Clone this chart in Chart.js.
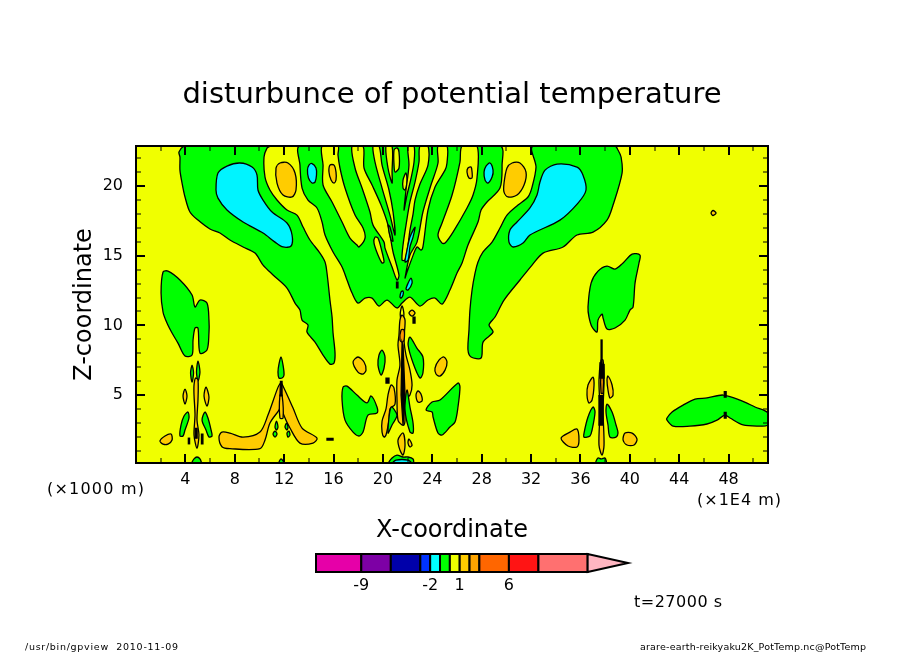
<!DOCTYPE html>
<html><head><meta charset="utf-8">
<style>html,body{margin:0;padding:0;background:#fff}canvas{position:absolute;left:0}</style>
<script src="https://cdn.jsdelivr.net/npm/chart.js@4"></script></head>
<body><canvas id="main" width="904" height="654" style="top:0"></canvas><canvas id="bar" width="904" height="100" style="top:540px"></canvas>
<script>
const titleText = 'disturbunce of potential temperature';
const xTitle = 'X-coordinate', zTitle = 'Z-coordinate';
const xMajor = [4,8,12,16,20,24,28,32,36,40,44,48];
const xMinor = [2,6,10,14,18,22,26,30,34,38,42,46,50];
const zMajor = [5,10,15,20];
const zMinor = [1,2,3,4,6,7,8,9,11,12,13,14,16,17,18,19,21,22];
const barLevels = [-13.6,-9,-6,-3,-2,-1,0,1,2,3,6,9,14];
const barTip = 18.1;
const barLabels = [-9,-2,1,6];
const barColors = ['#e600a8','#7d00a5','#0000aa','#0033ff','#00ffff','#00ff00','#eeff00','#ffcc00','#ffa500','#ff6600','#ff1414','#ff7070','#ffb6c1'];

// contour outlines, flat x,z pairs in axis units
const greenLeftTop=[3.97,22.88,3.48,22.45,3.56,22.09,3.56,21.15,3.73,20.22,3.97,19.22,4.37,18.14,5.02,17.56,5.99,16.92,6.8,16.63,7.61,16.13,8.67,15.63,9.64,15.19,10.29,14.33,11.1,13.62,12.23,12.68,12.88,11.6,13.28,11.1,13.45,10.38,13.93,10.03,13.85,9.52,14.5,8.8,15.15,7.87,15.71,7.22,16.04,7.3,16.12,8.01,15.96,9.45,15.88,10.6,15.71,11.82,15.47,13.76,15.31,14.55,14.9,15.19,14.09,16.13,13.53,17.06,13.04,17.92,12.23,18.28,11.42,19,10.85,19.72,10.45,20.65,10.37,22.09,10.61,22.73,10.85,22.88];
const greenCentre=[13.28,22.88,13.28,21.51,13.45,19.86,13.93,19,14.66,18.43,15.07,17.42,15.31,16.49,15.96,15.27,16.69,14.19,17.09,13.26,17.5,12.32,17.98,11.6,18.55,11.96,19.12,11.96,19.68,11.39,20.33,11.82,21.14,11.25,21.55,11.6,22.19,12.03,23,11.39,23.65,11.82,24.22,11.96,24.79,11.53,25.43,12.54,26,13.76,26.41,14.48,26.89,15.77,27.7,17.42,27.95,18.28,28.43,18.86,29.48,19.86,29.65,21.51,29.48,22.88];
const greenRightTop=[32.16,22.88,32.4,21.37,32.08,19.93,31.75,19.22,30.94,18.64,30.05,17.92,29.48,16.99,28.84,15.98,28.11,15.27,27.7,14.55,27.46,13.76,27.22,12.54,27.05,11.1,26.97,9.67,26.89,8.23,27.14,7.73,27.95,7.66,28.11,8.8,28.92,9.52,28.59,10.03,29.08,10.6,29.81,11.82,31.1,13.26,32.08,14.33,32.97,15.19,34.59,15.63,35.72,16.49,37.02,16.7,38.15,17.56,38.64,18.64,39.37,20.94,39.29,22.09,39.04,22.59,38.8,22.88];
const greenLobeLeft=[2.19,13.83,2.59,13.9,3.56,13.26,4.54,12.18,4.78,11.32,5.18,11.82,5.75,11.6,5.91,10.38,5.91,9.45,5.75,8.23,5.18,8.01,5.02,9.81,4.78,9.81,4.62,8.95,4.54,7.87,3.97,7.8,3.4,8.73,2.92,9.45,2.51,10.17,2.19,10.96,2.03,12.32];
const greenLobeRight=[36.61,11.32,36.86,13.04,37.42,13.9,38.15,14.26,38.8,14.04,39.45,14.48,40.18,15.12,40.82,15.05,40.74,14.48,40.42,13.04,40.26,11.32,40.01,11.1,39.61,10.38,38.8,9.81,38.15,9.74,37.83,10.53,37.75,10.81,37.42,10.38,37.34,9.52,36.94,9.88,36.69,10.6];
const greenFarRight=[43.01,3.35,43.42,3.78,44.31,4.28,45.28,4.71,46.25,4.79,47.55,5,48.92,4.64,50.14,4.14,51.19,3.71,51.19,2.85,50.38,2.77,49.17,2.85,48.11,3.35,47.71,3.56,47.06,3.2,46.25,2.92,44.87,2.77,43.5,2.77,43.01,3.2];
const greenMidLeft=[16.77,5.57,17.09,5.64,17.9,5,18.71,4.43,19.04,4.93,19.52,4.14,19.52,3.71,18.79,3.56,18.39,2.34,18.06,2.06,17.58,2.34,16.93,3.2,16.69,4.64];
const greenMidRight=[23.49,3.92,23.98,4.5,24.62,4.64,26.08,5.86,26.24,5.57,26.08,4.14,25.84,3.06,25.43,2.7,24.79,2.13,24.46,2.27,24.06,3.42,23.98,3.78];
const greenSlimRight=[22.19,9.16,22.75,8.37,23.24,7.73,23.24,6.58,23,6.22,22.44,7.3,22.04,8.59];
const greenSlimLeft=[19.93,8.23,20.17,7.73,20.09,6.94,19.85,6.43,19.6,7.15,19.68,7.87];
const greenA1=[4.21,3.78,4.29,3.35,3.97,2.49,3.81,2.06,3.56,2.06,3.65,2.85,3.89,3.49];
const greenA2=[5.59,3.78,5.83,3.35,6.08,2.49,6.16,2.06,5.91,1.99,5.67,2.49,5.35,3.2];
const greenA3=[4.54,0.12,4.7,0.41,4.94,0.55,5.18,0.41,5.27,0.12];
const greenB1=[11.75,7.73,11.91,7.15,11.99,6.44,11.83,6.22,11.58,6.22,11.5,6.65,11.58,7.22];
const greenB2=[11.38,3.13,11.5,2.7,11.38,2.49,11.26,2.7];
const greenB3=[11.26,2.41,11.42,2.2,11.26,1.98,11.1,2.2];
const greenB4=[12.19,2.99,12.31,2.7,12.23,2.49,12.07,2.7];
const greenB5=[12.39,2.41,12.47,2.13,12.31,1.98,12.23,2.27];
const greenB6=[11.58,0.12,11.75,0.41,11.99,0.12];
const greenC1=[20.66,4.14,21.14,3.56,20.74,2.85,20.41,2.27];
const greenC2=[21.95,5.36,22.19,4.14,22.44,2.99,22.44,2.27,22.19,2.34,21.79,3.92];
const greenC3=[20.49,0.12,20.74,0.48,21.14,0.69,21.63,0.55,22.03,0.55,22.44,0.41,22.44,0.12];
const greenD1=[37.02,4.14,37.18,3.78,36.94,2.49,36.77,2.06,36.29,1.98,36.29,2.27,36.61,3.42];
const greenD2=[38.15,4.35,38.56,3.78,38.88,2.85,39.04,2.27,38.88,1.98,38.39,1.98,38.23,2.85,38.07,3.78];
const greenD3=[37.26,0.12,37.42,0.48,37.67,0.41,37.99,0.48,38.07,0.12];
const greenStubL=[4.54,7.15,4.66,6.58,4.54,5.93,4.42,6.58];
const greenStubR=[5.02,7.44,5.18,6.65,5.02,6,4.9,6.65];
const greenThinL=[20.41,17.2,20.57,17.06,20.82,16.05,20.66,16.13];

const yellowTongueL=[15.07,22.88,15.15,21.51,15.15,20.08,15.88,18.86,16.69,17.42,17.33,16.27,17.9,15.77,18.06,15.63,18.55,16.27,18.39,16.99,17.74,17.92,16.93,19.86,16.52,21.3,16.36,22.23,16.36,22.88];
const yellowBand3=[17.5,22.88,17.74,21.3,18.31,19.86,18.95,18.14,19.2,17.2,20.09,15.98,20.17,15.55,20.74,14.19,21.14,13.26,21.3,13.6,20.82,15.27,20.41,17.2,19.85,18.64,19.12,20.08,18.47,21.3,18.39,22.88];
const yellowBand4=[19.2,22.88,19.36,21.73,19.93,19.86,20.57,17.92,20.98,16.49,20.82,18.14,20.49,19.72,19.93,21.51,19.68,22.88];
const yellowBand5=[20.25,22.88,20.41,21.3,20.74,20.22,20.74,21.01,20.74,22.88];
const yellowOval6=[20.9,22.59,21.14,22.74,21.3,22.45,21.3,21.3,20.98,21.01,20.9,21.51];
const yellowBlob7=[21.63,20.44,21.87,20.94,21.95,20.29,21.79,19.72,21.63,19.86];
const yellowOval8=[19.36,16.34,19.6,16.27,19.93,15.27,20.09,14.55,19.93,14.48,19.6,15.05,19.28,15.91];
const yellowR1=[22.03,22.88,22.11,21.51,21.87,19.72,21.71,18.28,21.95,19.36,22.28,20.58,22.52,21.73,22.52,22.88];
const yellowR2=[23,22.88,22.92,21.73,22.6,20.29,22.19,18.86,21.87,17.2,21.63,15.77,21.55,14.69,21.79,14.69,22.03,15.77,22.19,16.85,22.44,17.99,22.6,19,23,20.15,23.65,21.51,23.65,22.88];
const yellowR3=[24.46,22.88,24.46,21.66,23.89,20.08,23.24,18.14,22.76,15.98,22.19,15.05,21.79,13.4,21.95,13.83,22.36,14.83,22.76,15.63,23.08,15.41,23.24,15.63,23.65,18.28,24.22,19.93,25.03,21.15,25.19,21.66,25.19,22.88];
const yellowTongueR=[26.41,22.88,26.24,21.73,25.6,19.36,24.79,17.35,24.46,16.49,24.79,15.91,25.03,15.91,25.68,16.7,26.81,18.43,27.3,19.36,27.62,20.58,27.62,22.88];
const yellowSpikeR=[21.55,11.4,21.7,10.8,21.55,10.2,21.4,10.8];

const cyanLeftBig=[6.48,19.72,6.64,20.94,7.37,21.44,8.42,21.66,9.4,21.37,9.8,20.8,9.88,19.72,10.29,19,11.02,18.14,12.23,17.35,12.64,16.49,12.56,15.7,11.91,15.63,11.26,15.98,10.29,16.63,8.67,17.42,7.37,18.28,6.64,19.14];
const cyanLeftSmall=[14.26,21.62,14.58,21.3,14.62,20.8,14.5,20.29,14.26,20.22,13.97,20.58,13.89,21.15,14.01,21.51];
const cyanRightSmall=[28.35,21.44,28.67,21.66,28.92,21.15,28.84,20.65,28.51,20.22,28.27,20.44,28.19,21.01];
const cyanRightBig=[30.29,16.85,30.86,17.42,31.91,18.43,32.48,19.36,32.72,20.29,33.13,21.15,34.1,21.58,35.72,21.37,36.2,20.8,36.45,19.72,35.8,18.78,34.34,17.56,31.91,16.49,31.35,15.91,30.54,15.63,30.21,15.98];
const cyanThin=[22.6,17.06,22.19,16.34,21.95,15.41,21.79,14.55,22.04,14.69,22.19,15.63,22.44,16.34];
const cyanDotA=[22.28,13.4,22.36,13.04,22.04,12.54,21.87,12.61,22.04,13.04];
const cyanDotB=[21.63,12.47,21.63,12.18,21.47,11.96,21.38,12.04,21.47,12.4];
const cyanFloor=[20.82,0.12,21.06,0.33,22.03,0.33,22.28,0.12];

const goldBlobL=[11.34,21.3,11.66,21.66,12.31,21.66,12.88,20.94,12.96,19.72,12.64,19.22,11.91,19.36,11.42,20.22];
const goldOvalL=[15.71,21.51,16.04,21.51,16.2,21.01,16.2,20.44,16.04,20.22,15.8,20.44,15.63,21.01];
const goldOvalR=[26.89,21.3,27.14,21.37,27.22,21.01,27.22,20.58,26.97,20.58,26.81,21.01];
const goldBlobR=[29.81,20.22,30.05,21.3,30.46,21.66,31.1,21.66,31.59,21.01,31.43,20.08,30.86,19.36,30.13,19.22,29.81,19.57];
const goldDot=[46.58,18.07,46.74,18.25,46.98,18.07,46.74,17.89];
const goldSpine1=[4.82,6.22,5.02,6.08,5.02,4.64,4.94,3.2,5.1,2.13,4.94,1.18,4.7,2.13,4.78,3.56,4.7,4.98,4.7,5.72];
const goldE1=[3.97,5.43,4.13,4.93,3.97,4.35,3.81,4.93];
const goldE2=[5.67,5.57,5.91,4.86,5.75,4.21,5.51,4.93];
const goldE3=[1.94,1.7,2.35,2.06,2.84,2.2,2.92,1.77,2.59,1.48,2.19,1.48];
const goldPeak=[6.72,1.98,6.96,2.34,7.61,2.27,8.67,1.98,10.04,2.34,10.69,3.56,11.5,5.55,11.75,5.86,11.98,5.5,12.72,4.07,13.45,2.63,14.66,1.91,14.34,1.55,13.28,1.55,12.47,2.63,11.9,3.71,11.75,4.28,11.58,3.92,10.85,2.99,10.45,1.77,10.04,1.15,7.61,1.15,6.96,1.29];
const goldPeakCore=[11.66,5,11.83,5,11.91,3.35,11.66,3.35];
const goldColumn=[21.55,10.74,21.79,10.38,21.71,8.95,21.87,7.87,22.19,6.79,22.36,5.72,22.19,5,21.79,4.64,21.79,3.2,21.71,2.85,21.55,2.85,21.22,3.2,21.14,4.64,21.14,6.08,21.38,7.15,21.22,8.59,21.3,9.31,21.38,10.38];
const goldSideL=[20.66,5.72,20.9,5.5,20.98,4.35,20.57,4,20.49,3.2,20.25,2.13,20.09,1.98,19.93,2.34,19.93,3.13,20.25,4,20.41,5];
const goldOvalA=[17.98,7.73,18.47,7.37,18.63,6.79,18.39,6.51,17.98,6.65,17.58,7.37];
const goldOvalB=[24.95,7.73,25.19,7.37,25.03,6.79,24.62,6.36,24.3,6.51,24.22,6.94,24.54,7.51];
const goldOvalC=[22.84,5.29,23.08,5.07,23.17,4.57,22.84,4.5,22.68,5];
const goldOvalD=[22.11,1.84,22.36,1.41,22.19,1.27,22.03,1.56];
const goldLowerC=[21.63,2.27,21.79,1.41,21.63,0.69,21.38,1.05,21.22,1.77];
const goldDotC=[22.36,11.1,22.6,10.89,22.36,10.66,22.11,10.89];
const goldSpine2=[37.67,7.51,37.83,7.51,37.91,6.08,37.83,3.92,37.91,1.41,37.75,0.69,37.5,1.41,37.58,3.92,37.5,6.08];
const goldF1=[37.02,6.29,37.1,5.72,36.94,4.64,36.69,4.43,36.53,5,36.61,5.72];
const goldF2=[38.23,6.36,38.56,5.72,38.64,5,38.39,4.79,38.23,5.36,38.15,6.08];
const goldF3=[34.43,1.91,35.15,2.34,35.72,2.56,35.88,1.77,35.72,1.27,34.99,1.34];
const goldF4=[39.61,2.27,40.18,2.27,40.58,1.84,40.34,1.41,39.77,1.41,39.45,1.77];

const orangeCoreC=[21.47,9.67,21.71,9.67,21.71,8.95,21.55,8.8,21.38,8.95];
const orangeCoreD=[37.67,6.65,37.83,6.65,37.83,5.14,37.67,5.14];

const denseA=[11.7,5.98,11.83,5.98,11.83,4.95,11.66,4.95];
const denseB=[21.55,8.8,21.63,8.59,21.79,5,21.63,2.85,21.47,5];
const denseC=[20.25,6.22,20.49,6.22,20.49,5.86,20.25,5.86];
const denseD=[21.1,13.1,21.22,13.1,21.22,12.7,21.1,12.7];
const denseE=[15.47,1.88,15.96,1.88,15.96,1.77,15.47,1.77];
const denseF=[22.44,10.6,22.6,10.6,22.6,10.17,22.44,10.17];
const denseG=[37.67,8.95,37.75,8.95,37.75,7.3,37.67,7.3];
const denseH=[37.58,7.3,37.91,7.2,37.91,6.22,37.58,6.22];
const denseI=[37.5,4.95,37.83,4.95,37.83,2.85,37.5,2.85];
const denseJ=[5.3,2.2,5.42,2.2,5.42,1.5,5.3,1.5];
const denseK=[4.24,1.9,4.34,1.9,4.34,1.5,4.24,1.5];
const denseL=[4.8,2.6,4.95,2.6,4.95,1.9,4.8,1.9];
const denseM=[47.65,5.25,47.8,5.25,47.8,4.85,47.65,4.85];
const denseN=[47.65,3.75,47.8,3.75,47.8,3.35,47.65,3.35];

const YELLOW='#f0ff00', GREEN='#00ff00', CYAN='#00f4ff', GOLD='#ffcc00', ORANGE='#ff9900', BLACK='#000000';
const layers=[
 [GREEN,[greenLeftTop,greenCentre,greenRightTop,greenLobeLeft,greenLobeRight,greenFarRight,greenMidLeft,greenMidRight,greenSlimRight,greenSlimLeft,greenA1,greenA2,greenA3,greenB1,greenB2,greenB3,greenB4,greenB5,greenB6,greenC3,greenD3,greenStubL,greenStubR]],
 [YELLOW,[yellowTongueL,yellowBand3,yellowBand4,yellowBand5,yellowOval6,yellowBlob7,yellowOval8,yellowR1,yellowR2,yellowR3,yellowTongueR,yellowSpikeR]],
 [GREEN,[greenThinL]],
 [CYAN,[cyanLeftBig,cyanLeftSmall,cyanRightSmall,cyanRightBig,cyanThin,cyanDotA,cyanDotB,cyanFloor]],
 [GOLD,[goldBlobL,goldOvalL,goldOvalR,goldBlobR,goldDot,goldSpine1,goldE1,goldE2,goldE3,goldPeak,goldPeakCore,goldSideL,goldColumn,goldOvalA,goldOvalB,goldOvalC,goldOvalD,goldLowerC,goldDotC,goldSpine2,goldF1,goldF2,goldF3,goldF4]],
 [GREEN,[greenC1,greenC2,greenD1,greenD2]],
 [ORANGE,[orangeCoreC,orangeCoreD]],
 [BLACK,[denseA,denseB,denseC,denseD,denseE,denseF,denseG,denseH,denseI,denseJ,denseK,denseL,denseM,denseN]]
];
function toPoints(flat){const p=[];for(let i=0;i<flat.length;i+=2)p.push({x:flat[i],y:flat[i+1]});return p;}
function polygon(flat,color,order,width,tension,clip){return {data:toPoints(flat),polyFill:color,borderColor:'#000',borderWidth:width,showLine:true,tension:tension,pointRadius:0,pointHoverRadius:0,order:order,clip:clip};}
const polyFill={id:'polyFill',beforeDatasetDraw(chart,args){
  const ds=chart.data.datasets[args.index];const line=args.meta.dataset;if(!ds.polyFill||!line)return;
  line._loop=true;line._fullLoop=true;line._segments=undefined;line._pointsUpdated=false;
  const a=chart.chartArea,c=chart.ctx;c.save();line.updateControlPoints(a,'x');
  c.beginPath();c.rect(a.left,a.top,a.width,a.height);c.clip();
  c.beginPath();line.path(c);c.closePath();c.fillStyle=ds.polyFill;c.fill();c.restore();}};
const mainDatasets=[];let n=100000;
layers.forEach(([col,list])=>list.forEach(f=>mainDatasets.push(polygon(f,col,n--,1.3,col===BLACK?0:0.3,0))));
const labels=[
 ['(×1000 m)',47,490,16,97],['(×1E4 m)',697,501,16,84],['t=27000 s',634,603,16,88],
 ['/usr/bin/gpview  2010-11-09',25,648,9.5,153],['arare-earth-reikyaku2K_PotTemp.nc@PotTemp',640,648,9.5,226]];
const decor={id:'decor',beforeDatasetsDraw(chart){const a=chart.chartArea,c=chart.ctx;c.save();c.fillStyle=YELLOW;c.fillRect(a.left,a.top,a.width,a.height);c.restore();},
 afterDraw(chart){const a=chart.chartArea,c=chart.ctx,sx=chart.scales.x,sy=chart.scales.y;c.save();c.strokeStyle='#000';
  const tx=(v,l,w)=>{const p=Math.round(sx.getPixelForValue(v));c.lineWidth=w;c.beginPath();c.moveTo(p,a.bottom);c.lineTo(p,a.bottom-l);c.moveTo(p,a.top);c.lineTo(p,a.top+l);c.stroke();};
  const ty=(v,l,w)=>{const p=Math.round(sy.getPixelForValue(v));c.lineWidth=w;c.beginPath();c.moveTo(a.left,p);c.lineTo(a.left+l,p);c.moveTo(a.right,p);c.lineTo(a.right-l,p);c.stroke();};
  xMinor.forEach(v=>tx(v,5,1));xMajor.forEach(v=>tx(v,9,2));zMinor.forEach(v=>ty(v,5,1));zMajor.forEach(v=>ty(v,9,2));
  c.lineWidth=2;c.strokeRect(a.left,a.top,a.width,a.height);
  c.fillStyle='#000';c.textBaseline='middle';c.textAlign='left';
  labels.forEach(([t,x,y,s,w])=>{c.font=s+'px "DejaVu Sans"';c.letterSpacing='0px';const m=c.measureText(t).width;c.letterSpacing=((w-m)/(t.length-1))+'px';c.fillText(t,x,y);});
  c.restore();}};
new Chart(document.getElementById('main'),{type:'scatter',data:{datasets:mainDatasets},plugins:[polyFill,decor],options:{
 responsive:false,animation:false,devicePixelRatio:1,events:[],
 layout:{padding:{left:0,right:0,top:0,bottom:109}},
 plugins:{legend:{display:false},tooltip:{enabled:false},title:{display:true,text:titleText,color:'#000',font:{family:'"DejaVu Sans"',size:29,weight:'normal'},padding:{top:78.3,bottom:32.9}}},
 scales:{
  x:{type:'linear',min:0,max:51.19,afterBuildTicks:s=>{s.ticks=xMajor.map(v=>({value:v}));},afterFit:s=>{s.height=82;},
     grid:{display:false,drawTicks:false},border:{display:false},ticks:{color:'#000',padding:6.8,maxRotation:0,autoSkip:false,font:{family:'"DejaVu Sans"',size:16}},
     title:{display:true,text:xTitle,color:'#000',padding:0,font:{family:'"DejaVu Sans"',size:24}}},
  y:{type:'linear',position:'left',min:0.12,max:22.88,afterBuildTicks:s=>{s.ticks=zMajor.map(v=>({value:v}));},afterFit:s=>{s.width=136;},
     grid:{display:false,drawTicks:false},border:{display:false},ticks:{color:'#000',padding:13,font:{family:'"DejaVu Sans"',size:16}},
     title:{display:true,text:zTitle,color:'#000',padding:{top:70.5,bottom:0},font:{family:'"DejaVu Sans"',size:24}}},
  rightGutter:{type:'linear',position:'right',min:0,max:1,afterFit:s=>{s.width=136;},grid:{display:false,drawTicks:false},border:{display:false},ticks:{display:false}}
 }}});
// colour bar
const barSets=[];
for(let i=0;i<barLevels.length-1;i++){const a=barLevels[i],b=barLevels[i+1];barSets.push(polygon([a,0,b,0,b,1,a,1],barColors[i],100-i,2,0,false));}
barSets.push(polygon([barLevels[barLevels.length-1],0,barTip,0.5,barLevels[barLevels.length-1],1],barColors[12],50,2,0,false));
new Chart(document.getElementById('bar'),{type:'scatter',data:{datasets:barSets},plugins:[polyFill],options:{
 responsive:false,animation:false,devicePixelRatio:1,events:[],
 layout:{padding:{left:316,right:276,top:14,bottom:28}},
 plugins:{legend:{display:false},tooltip:{enabled:false}},
 scales:{
  x:{type:'linear',min:barLevels[0],max:barTip,afterBuildTicks:s=>{s.ticks=barLabels.map(v=>({value:v}));},afterFit:s=>{s.height=40;},
     grid:{display:false,drawTicks:false},border:{display:false},ticks:{color:'#000',padding:4.5,maxRotation:0,autoSkip:false,font:{family:'"DejaVu Sans"',size:16}}},
  y:{type:'linear',min:0,max:1,display:false}
 }}});
</script></body></html>
